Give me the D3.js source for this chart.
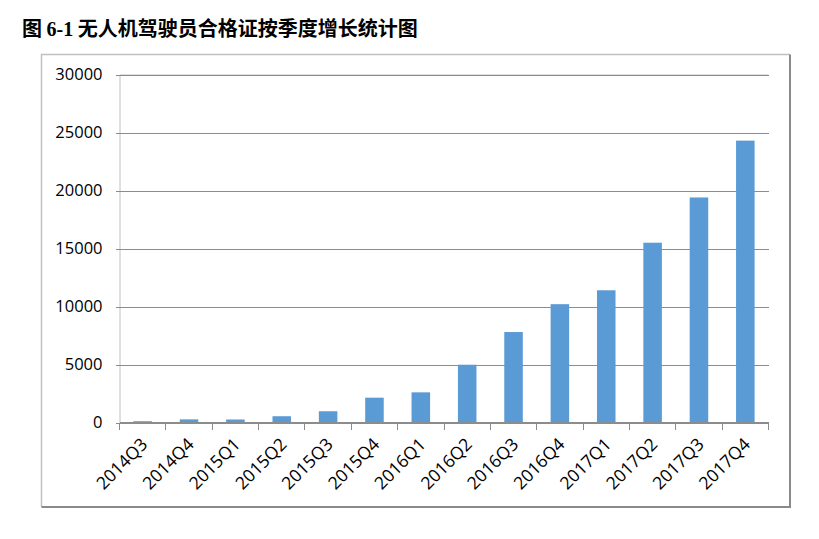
<!DOCTYPE html>
<html>
<head>
<meta charset="utf-8">
<script src="https://cdn.jsdelivr.net/npm/d3@7"></script>
<style>
  body { margin: 0; background: #fff; }
  svg { display: block; }
</style>
</head>
<body>
<script>
// quarterly counts
var quarters = ['2014Q3', '2014Q4', '2015Q1', '2015Q2', '2015Q3', '2015Q4', '2016Q1',
                '2016Q2', '2016Q3', '2016Q4', '2017Q1', '2017Q2', '2017Q3', '2017Q4'];
var counts = [110, 270, 260, 540, 970, 2140, 2600,
              4980, 7800, 10200, 11400, 15500, 19400, 24300];
var yTicks = [0, 5000, 10000, 15000, 20000, 25000, 30000];

var w = 819;
var h = 539;
var plotLeft = 119.5, plotRight = 768.5, plotTop = 74.5, plotBottom = 422.5;

var svg = d3.select('body')
  .append('svg')
  .attr('width', w)
  .attr('height', h);

// title: CJK in Noto Sans, the figure number in a serif bold
var title = svg.append('text')
  .attr('x', 22)
  .attr('y', 36)
  .attr('font-family', '"Noto Sans CJK SC", sans-serif')
  .attr('font-weight', 'bold')
  .attr('font-size', 20)
  .attr('fill', '#000');
title.append('tspan').text('图 ');
title.append('tspan')
  .attr('font-family', '"Liberation Serif", serif')
  .text('6-1');
title.append('tspan').text(' 无人机驾驶员合格证按季度增长统计图');

// chart frame (light top/left, darker right/bottom)
svg.append('path')
  .attr('d', 'M41.5,507V54.5H790')
  .attr('fill', 'none')
  .attr('stroke', '#c0c0c0')
  .attr('stroke-width', 1.5);
svg.append('path')
  .attr('d', 'M790,54.5V507H41.5')
  .attr('fill', 'none')
  .attr('stroke', '#8a8a8a')
  .attr('stroke-width', 2);

var x = d3.scaleBand()
  .domain(quarters)
  .range([plotLeft, plotRight])
  .paddingInner(0.6)
  .paddingOuter(0.3);

var y = d3.scaleLinear()
  .domain([0, 30000])
  .range([plotBottom, plotTop]);

// gridlines + y axis
var yAxis = d3.axisLeft(y)
  .tickValues(yTicks)
  .tickSize(-(plotRight - plotLeft))
  .tickPadding(17)
  .tickFormat(d3.format('d'));

var gy = svg.append('g')
  .attr('transform', 'translate(' + plotLeft + ',0)')
  .call(yAxis);
gy.select('.domain').attr('stroke', '#bfbfbf');
gy.selectAll('.tick line')
  .attr('x1', -4)
  .attr('stroke', '#8c8c8c')
  .attr('shape-rendering', 'crispEdges');
gy.selectAll('.tick text')
  .attr('font-family', '"Open Sans", sans-serif')
  .attr('font-size', 16.5)
  .attr('fill', '#000');

// bars
svg.selectAll('rect.bar')
  .data(counts)
  .enter()
  .append('rect')
  .attr('class', 'bar')
  .attr('x', function(d, i) { return x(quarters[i]); })
  .attr('y', function(d) { return y(d); })
  .attr('width', x.bandwidth())
  .attr('height', function(d) { return plotBottom - y(d); })
  .attr('fill', '#5b9bd5');

// x axis: ticks at band boundaries
var step = x.step();
var gx = svg.append('g');
gx.append('line')
  .attr('x1', plotLeft).attr('x2', plotRight)
  .attr('y1', plotBottom).attr('y2', plotBottom)
  .attr('stroke', '#8c8c8c')
  .attr('shape-rendering', 'crispEdges');
gx.selectAll('line.tk')
  .data(d3.range(quarters.length + 1))
  .enter()
  .append('line')
  .attr('class', 'tk')
  .attr('x1', function(i) { return plotLeft + i * step; })
  .attr('x2', function(i) { return plotLeft + i * step; })
  .attr('y1', plotBottom)
  .attr('y2', plotBottom + 7)
  .attr('stroke', '#8c8c8c')
  .attr('shape-rendering', 'crispEdges');

gx.selectAll('text')
  .data(quarters)
  .enter()
  .append('text')
  .attr('transform', function(d) {
    var cx = x(d) + x.bandwidth() / 2 + 6;
    return 'translate(' + cx + ',' + (plotBottom + 23) + ') rotate(-45)';
  })
  .attr('text-anchor', 'end')
  .attr('font-family', '"Open Sans", sans-serif')
  .attr('font-size', 17.5)
  .attr('fill', '#000')
  .text(function(d) { return d; });
</script>
</body>
</html>
